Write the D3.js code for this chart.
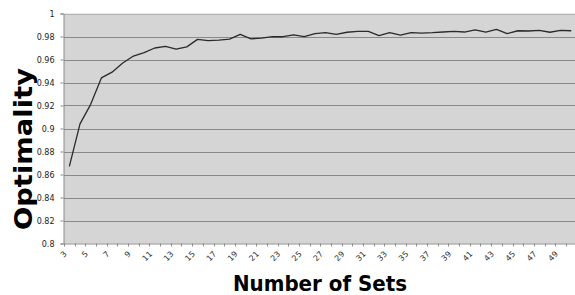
<!DOCTYPE html>
<html>
<head>
<meta charset="utf-8">
<script src="https://cdn.jsdelivr.net/npm/d3@7.9.0/dist/d3.min.js"></script>
<style>
  body { margin: 0; background: #fff; }
  svg { display: block; }
</style>
</head>
<body>
<svg width="575" height="295"></svg>
<script>
// number of sets (categories on the x axis)
const sets = d3.range(3, 51);
// optimality, one per set
const optimality = [
  0.867, 0.904, 0.921, 0.944, 0.949, 0.957, 0.963, 0.966, 0.970, 0.9715,
  0.969, 0.971, 0.9775, 0.9765, 0.9768, 0.9778, 0.9818, 0.978, 0.9785, 0.9798,
  0.9798, 0.9815, 0.9798, 0.9825, 0.9833, 0.9819, 0.9837, 0.9845, 0.9845, 0.9807,
  0.9833, 0.9811, 0.9833, 0.983, 0.9833, 0.9839, 0.9845, 0.9839, 0.9857, 0.9839,
  0.9862, 0.9825, 0.985, 0.9848, 0.9854, 0.9837, 0.9854, 0.985
];
const yTicks = [0.8, 0.82, 0.84, 0.86, 0.88, 0.9, 0.92, 0.94, 0.96, 0.98, 1];
const xLabels = sets.filter(d => d % 2 === 1);

const svg = d3.select('svg');
const plotLeft = 64, plotRight = 576.6, plotTop = 13.5, plotBottom = 243.5;

let x = d3.scaleBand().domain(sets).range([plotLeft, plotRight]);
let y = d3.scaleLinear().domain([0.8, 1]).range([plotBottom, plotTop]);

// plot background
svg.append('rect')
  .attr('x', plotLeft).attr('y', plotTop)
  .attr('width', plotRight - plotLeft).attr('height', plotBottom - plotTop)
  .attr('fill', '#d5d5d5');

// horizontal gridlines
svg.append('g')
  .selectAll('line')
  .data(yTicks.slice(1))
  .join('line')
  .attr('x1', plotLeft).attr('x2', plotRight)
  .attr('y1', d => Math.round(y(d)) + 0.5).attr('y2', d => Math.round(y(d)) + 0.5)
  .attr('stroke', d => d === 1 ? '#b4b4b4' : '#8a8a8a')
  .attr('stroke-width', 1);

// y axis
let yAxis = svg.append('g')
  .attr('transform', `translate(${plotLeft - 0.5},0)`)
  .call(d3.axisLeft(y).tickValues(yTicks).tickSize(3).tickFormat(d3.format('~g')));
yAxis.select('.domain').attr('stroke', '#8a8a8a');
yAxis.selectAll('.tick line').attr('stroke', '#8a8a8a');
yAxis.selectAll('text')
  .attr('x', -9)
  .attr('font-family', 'DejaVu Sans, Verdana, sans-serif')
  .attr('font-size', 8)
  .attr('fill', '#222');

// x axis line with ticks between categories
svg.append('line')
  .attr('x1', plotLeft).attr('x2', plotRight)
  .attr('y1', plotBottom + 0.5).attr('y2', plotBottom + 0.5)
  .attr('stroke', '#8a8a8a');
svg.append('g')
  .selectAll('line')
  .data(sets.concat([51]))
  .join('line')
  .attr('x1', d => Math.round(plotLeft + (d - 3) * x.step()) + 0.5)
  .attr('x2', d => Math.round(plotLeft + (d - 3) * x.step()) + 0.5)
  .attr('y1', plotBottom).attr('y2', plotBottom + 3)
  .attr('stroke', '#8a8a8a');

// rotated category labels
svg.append('g')
  .selectAll('text')
  .data(xLabels)
  .join('text')
  .attr('transform', d => `translate(${x(d) + x.bandwidth() / 2 - 2},${plotBottom + 11}) rotate(-45)`)
  .attr('text-anchor', 'end')
  .attr('font-family', 'DejaVu Sans, Verdana, sans-serif')
  .attr('font-size', 8)
  .attr('fill', '#333')
  .text(d => d);

// the series line
let line = d3.line()
  .x((d, i) => x(sets[i]) + x.bandwidth() / 2)
  .y(d => y(d));
svg.append('path')
  .datum(optimality)
  .attr('d', line)
  .attr('fill', 'none')
  .attr('stroke', '#2a2a2a')
  .attr('stroke-width', 1.3)
  .attr('stroke-linejoin', 'round');

// axis titles
svg.append('text')
  .attr('transform', 'translate(32,149) rotate(-90)')
  .attr('text-anchor', 'middle')
  .attr('font-family', 'DejaVu Sans, Verdana, sans-serif')
  .attr('font-weight', 'bold')
  .attr('font-size', 24)
  .attr('textLength', 162)
  .attr('lengthAdjust', 'spacingAndGlyphs')
  .text('Optimality');

svg.append('text')
  .attr('x', 320).attr('y', 291)
  .attr('text-anchor', 'middle')
  .attr('font-family', 'DejaVu Sans, Verdana, sans-serif')
  .attr('font-weight', 'bold')
  .attr('font-size', 22)
  .attr('textLength', 174)
  .attr('lengthAdjust', 'spacingAndGlyphs')
  .text('Number of Sets');
</script>
</body>
</html>
